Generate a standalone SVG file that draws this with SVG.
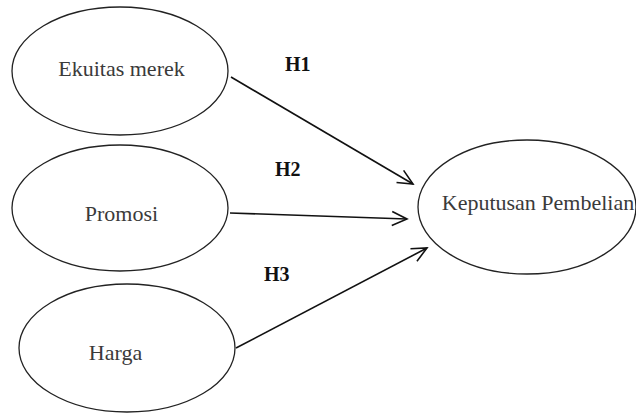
<svg xmlns="http://www.w3.org/2000/svg" width="636" height="413" viewBox="0 0 636 413">
<style>
.node ellipse{fill:#fff;stroke:#222;stroke-width:1.3}
.lbl{font-family:"Liberation Serif",serif;font-size:22px;fill:#3a3a3a;text-anchor:middle}
.h{font-family:"Liberation Serif",serif;font-size:20px;font-weight:bold;fill:#111}
.edge{stroke:#111;stroke-width:1.6;fill:none;marker-end:url(#arr)}
</style>
<defs>
<marker id="arr" viewBox="0 0 20 20" refX="18" refY="10" markerWidth="20" markerHeight="20" markerUnits="userSpaceOnUse" orient="auto">
<path d="M3,3 L18,10 L3,17" fill="none" stroke="#111" stroke-width="1.6"/>
</marker>
</defs>
<rect width="636" height="413" fill="#fff"/>
<g id="n1" class="node"><ellipse cx="120" cy="71" rx="108" ry="64"/><text class="lbl" x="121.5" y="76">Ekuitas merek</text></g>
<g id="n2" class="node"><ellipse cx="120" cy="208" rx="108" ry="63"/><text class="lbl" x="121.5" y="221">Promosi</text></g>
<g id="n3" class="node"><ellipse cx="127" cy="348" rx="108" ry="64"/><text class="lbl" x="115.5" y="360">Harga</text></g>
<g id="n4" class="node"><ellipse cx="527" cy="207" rx="109" ry="67"/><text class="lbl" x="538" y="210">Keputusan Pembelian</text></g>
<g id="edges">
<line class="edge" x1="231" y1="77" x2="413" y2="184"/>
<line class="edge" x1="230" y1="213" x2="407" y2="219"/>
<line class="edge" x1="236" y1="348" x2="427" y2="248"/>
</g>
<g id="labels">
<text class="h" x="285" y="71">H1</text>
<text class="h" x="275" y="176">H2</text>
<text class="h" x="264" y="281">H3</text>
</g>
</svg>
